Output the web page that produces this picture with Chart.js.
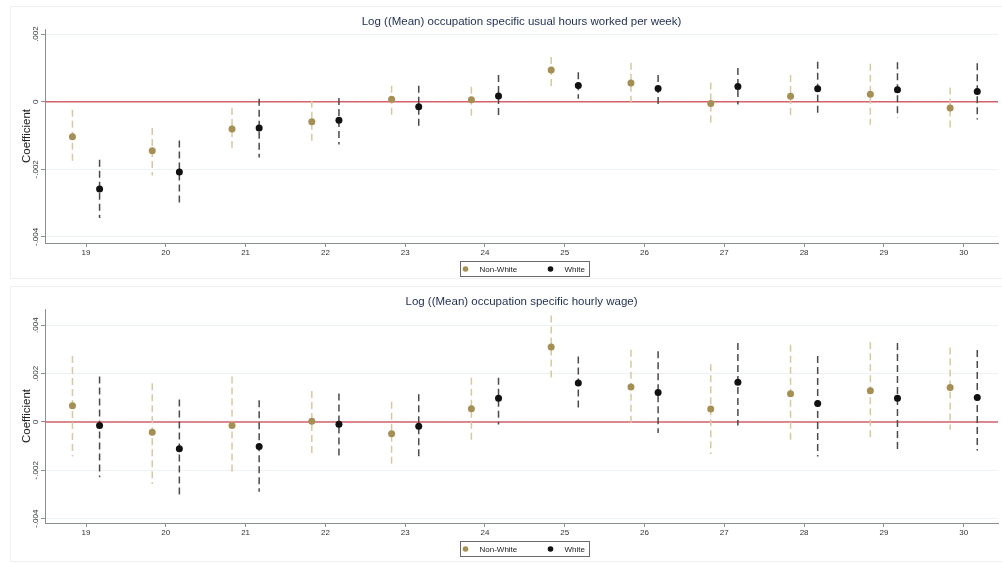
<!DOCTYPE html>
<html>
<head>
<meta charset="utf-8">
<title>Coefficients by age</title>
<script src="https://cdn.jsdelivr.net/npm/chart.js@4.4.1/dist/chart.umd.min.js"></script>
<style>
  html, body { margin: 0; padding: 0; background: #fff; overflow: hidden; }
  .panel { position: relative; width: 1002px; }
</style>
</head>
<body>
<div class="panel" style="height:280px"><canvas id="hoursChart"></canvas></div>
<div class="panel" style="height:283px"><canvas id="wageChart"></canvas></div>
<script>
// x categories (age)
const ages = [19, 20, 21, 22, 23, 24, 25, 26, 27, 28, 29, 30];
const xTickLabels = ['19', '20', '21', '22', '23', '24', '25', '26', '27', '28', '29', '30'];
const seriesNames = ['Non-White', 'White'];

// hours worked panel
const hoursNonWhite   = [-0.00104, -0.00145, -0.00081, -0.00059, 0.00007, 0.00006, 0.00094, 0.00055, -0.00005, 0.00016, 0.00022, -0.00019];
const hoursNonWhiteHi = [-0.00024, -0.00078, -0.00019, 0.00003, 0.00047, 0.00044, 0.00132, 0.00115, 0.00057, 0.00079, 0.00112, 0.00042];
const hoursNonWhiteLo = [-0.00184, -0.00218, -0.00142, -0.00120, -0.00041, -0.00044, 0.00045, -0.00004, -0.00068, -0.00047, -0.00068, -0.00080];
const hoursWhite      = [-0.00258, -0.00208, -0.00078, -0.00055, -0.00015, 0.00017, 0.00048, 0.00039, 0.00045, 0.00038, 0.00035, 0.00030];
const hoursWhiteHi    = [-0.00172, -0.00115, 0.00009, 0.00011, 0.00047, 0.00079, 0.00087, 0.00079, 0.00100, 0.00118, 0.00117, 0.00114];
const hoursWhiteLo    = [-0.00344, -0.00303, -0.00165, -0.00127, -0.00076, -0.00044, 0.00009, -0.00007, -0.00008, -0.00044, -0.00047, -0.00053];
const hoursYTicks = [-0.004, -0.002, 0, 0.002];
const hoursYTickLabels = ['-.004', '-.002', '0', '.002'];

// hourly wage panel
const wageNonWhite   = [0.00067, -0.00043, -0.00015, 0.00003, -0.00049, 0.00054, 0.00310, 0.00144, 0.00053, 0.00117, 0.00129, 0.00142];
const wageNonWhiteHi = [0.00273, 0.00160, 0.00188, 0.00128, 0.00083, 0.00183, 0.00440, 0.00298, 0.00239, 0.00319, 0.00329, 0.00308];
const wageNonWhiteLo = [-0.00143, -0.00257, -0.00217, -0.00143, -0.00185, -0.00077, 0.00169, -0.00011, -0.00133, -0.00088, -0.00071, -0.00032];
const wageWhite      = [-0.00015, -0.00111, -0.00102, -0.00010, -0.00018, 0.00098, 0.00161, 0.00122, 0.00164, 0.00076, 0.00098, 0.00101];
const wageWhiteHi    = [0.00188, 0.00093, 0.00090, 0.00118, 0.00114, 0.00183, 0.00271, 0.00292, 0.00326, 0.00273, 0.00326, 0.00297];
const wageWhiteLo    = [-0.00229, -0.00317, -0.00289, -0.00153, -0.00147, -0.00011, 0.00044, -0.00046, -0.00015, -0.00143, -0.00129, -0.00118];
const wageYTicks = [-0.004, -0.002, 0, 0.002, 0.004];
const wageYTickLabels = ['-.004', '-.002', '0', '.002', '.004'];

const refLine = 0;
const xMin = 18.486, xMax = 30.43;

const FONT = "'Liberation Sans', Arial, Helvetica, sans-serif";
const NW_DOT = '#a58f55', NW_BAR = '#d6c8a0';
const W_DOT = '#111111', W_BAR = '#4a4a4a';
const AXIS = '#8a8f92';

// faint outline round each graph region
const framePlugin = {
  id: 'frame',
  beforeDraw(chart) {
    const { ctx, width, height } = chart;
    ctx.save();
    ctx.strokeStyle = '#edf1f1';
    ctx.lineWidth = 1;
    ctx.strokeRect(10.5, 6.5, width - 10, height - 8);
    ctx.restore();
  }
};

// red reference line at zero, then the confidence intervals behind the dots
const intervalPlugin = {
  id: 'intervals',
  beforeDatasetsDraw(chart) {
    const { ctx, chartArea, scales: { x, y } } = chart;
    ctx.save();
    const yz = y.getPixelForValue(refLine);
    ctx.strokeStyle = '#d4606c';
    ctx.lineWidth = 1.5;
    ctx.beginPath();
    ctx.moveTo(chartArea.left, yz);
    ctx.lineTo(chartArea.right, yz);
    ctx.stroke();

    chart.data.datasets.forEach(ds => {
      ctx.strokeStyle = ds.barColor;
      ctx.lineWidth = 1.5;
      ctx.setLineDash([7, 4]);
      ds.data.forEach((p, i) => {
        const px = x.getPixelForValue(p.x);
        ctx.beginPath();
        ctx.moveTo(px, y.getPixelForValue(ds.hi[i]));
        ctx.lineTo(px, y.getPixelForValue(ds.lo[i]));
        ctx.stroke();
      });
    });
    ctx.restore();
  }
};

// boxed legend under the x axis
const legendBoxPlugin = {
  id: 'legendBox',
  afterDraw(chart) {
    const { ctx, chartArea } = chart;
    const w = 129, h = 15;
    const left = 460.5;
    const top = Math.round(chartArea.bottom + 18) + 0.5;
    ctx.save();
    ctx.strokeStyle = '#6a6a6a';
    ctx.lineWidth = 1;
    ctx.strokeRect(left, top, w, h);
    ctx.font = '8px ' + FONT;
    ctx.textBaseline = 'middle';
    const offs = [[5, 19], [90, 104]];
    chart.data.datasets.forEach((ds, i) => {
      ctx.beginPath();
      ctx.fillStyle = ds.backgroundColor;
      ctx.arc(left + offs[i][0], top + h / 2, 2.8, 0, Math.PI * 2);
      ctx.fill();
      ctx.fillStyle = '#222';
      ctx.fillText(ds.label, left + offs[i][1], top + h / 2 + 0.5);
    });
    ctx.restore();
  }
};

// the x axis should run right to the edge of the canvas
function noSidePadding(s) {
  s.paddingLeft = 0;
  s.paddingRight = 0;
}

function makeChart(id, title, nw, nwLo, nwHi, wh, whLo, whHi, yTicks, yLabels, yMin, yMax, xHeight) {
  const shift = 0.17;
  return new Chart(document.getElementById(id), {
    type: 'scatter',
    data: {
      datasets: [
        {
          label: seriesNames[0],
          data: ages.map((a, i) => ({ x: a - shift, y: nw[i] })),
          lo: nwLo, hi: nwHi, barColor: NW_BAR,
          backgroundColor: NW_DOT, borderWidth: 0, pointRadius: 3.5
        },
        {
          label: seriesNames[1],
          data: ages.map((a, i) => ({ x: a + shift, y: wh[i] })),
          lo: whLo, hi: whHi, barColor: W_BAR,
          backgroundColor: W_DOT, borderWidth: 0, pointRadius: 3.5
        }
      ]
    },
    options: {
      responsive: true,
      maintainAspectRatio: false,
      animation: false,
      events: [],
      layout: { padding: { left: 12, right: 0, top: 6, bottom: 0 } },
      plugins: {
        legend: { display: false },
        tooltip: { enabled: false }
      },
      scales: {
        x: {
          type: 'linear',
          min: xMin,
          max: xMax,
          afterBuildTicks: s => { s.ticks = ages.map(v => ({ value: v })); },
          afterFit: s => { s.height = xHeight; noSidePadding(s); },
          ticks: {
            callback: (v, i) => xTickLabels[i],
            autoSkip: false, maxRotation: 0,
            color: '#333', padding: 1,
            font: { family: FONT, size: 8 }
          },
          grid: { drawOnChartArea: false, tickLength: 4, tickColor: AXIS },
          border: { color: AXIS }
        },
        // top axis only carries the panel title, centred over the plot region
        xTop: {
          type: 'linear',
          position: 'top',
          min: xMin,
          max: xMax,
          afterFit: s => { s.height = 23; noSidePadding(s); },
          ticks: { display: false },
          grid: { display: false, drawTicks: false },
          border: { display: false },
          title: {
            display: true,
            text: title,
            color: '#1e2d50',
            font: { family: FONT, size: 11.5 },
            padding: { top: 9, bottom: 0 }
          }
        },
        y: {
          type: 'linear',
          min: yMin,
          max: yMax,
          afterBuildTicks: s => { s.ticks = yTicks.map(v => ({ value: v })); },
          afterFit: s => { s.width = 33; },
          ticks: {
            callback: (v, i) => yLabels[i],
            minRotation: 90, maxRotation: 90,
            crossAlign: 'center', padding: -4,
            color: '#333',
            font: { family: FONT, size: 8 }
          },
          grid: { color: '#edf2f2', tickLength: 4, tickColor: AXIS },
          border: { color: AXIS },
          title: {
            display: true,
            text: 'Coefficient',
            color: '#222',
            font: { family: FONT, size: 11.5 },
            padding: { top: 8, bottom: 0 }
          }
        }
      }
    },
    plugins: [framePlugin, intervalPlugin, legendBoxPlugin]
  });
}

makeChart('hoursChart', 'Log ((Mean) occupation specific usual hours worked per week)',
  hoursNonWhite, hoursNonWhiteLo, hoursNonWhiteHi,
  hoursWhite, hoursWhiteLo, hoursWhiteHi,
  hoursYTicks, hoursYTickLabels, -0.00418, 0.00215, 37);

makeChart('wageChart', 'Log ((Mean) occupation specific hourly wage)',
  wageNonWhite, wageNonWhiteLo, wageNonWhiteHi,
  wageWhite, wageWhiteLo, wageWhiteHi,
  wageYTicks, wageYTickLabels, -0.00418, 0.00467, 40);
</script>
</body>
</html>
